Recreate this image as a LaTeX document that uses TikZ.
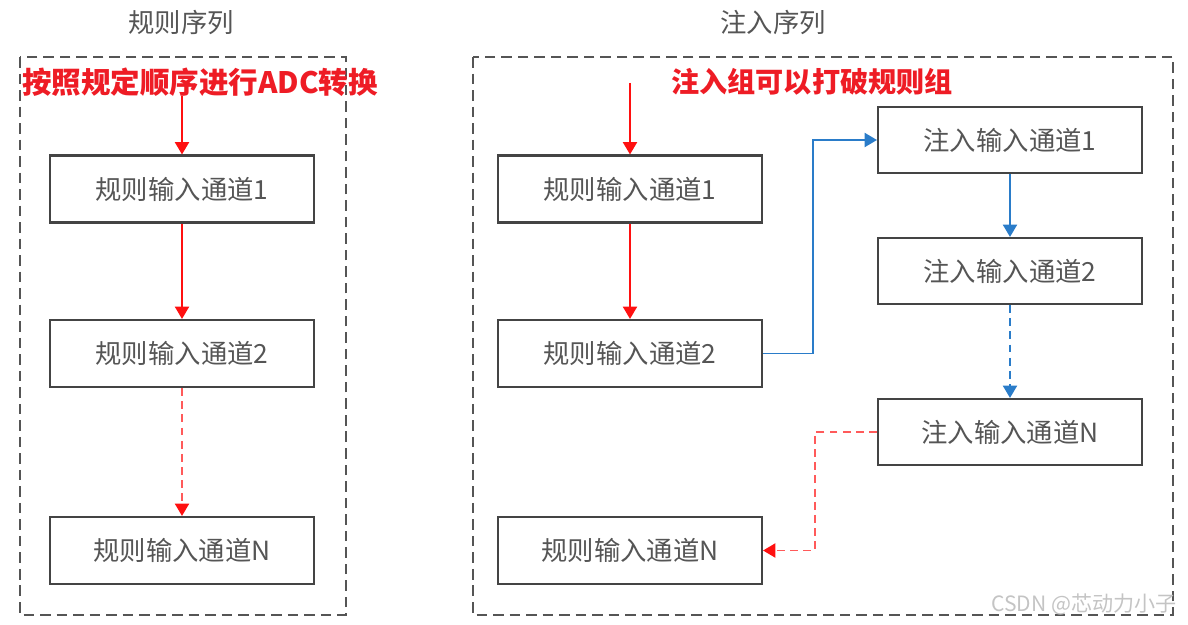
\documentclass[tikz,border=0pt]{standalone}
\usepackage{fontspec}
\newfontfamily\cjk{Noto Sans CJK SC}
\usetikzlibrary{arrows.meta}
\definecolor{boxgray}{HTML}{444444}
\definecolor{txtgray}{HTML}{555555}
\definecolor{outergray}{HTML}{555555}
\definecolor{hired}{HTML}{EE1C25}
\definecolor{arrred}{HTML}{FF1010}
\definecolor{dashred}{HTML}{FF5A5A}
\definecolor{arrblue}{HTML}{2A7CC9}
\definecolor{wmgray}{HTML}{C4C4C4}
\tikzset{
  chbox/.style={draw=boxgray, line width=1.2pt, minimum width=5.28cm, minimum height=1.34cm, inner sep=0pt,
    font=\cjk\fontsize{15}{18}\selectfont, text=txtgray},
  outer/.style={draw=outergray, line width=1.2pt, dash pattern=on 6pt off 3.4pt},
  title/.style={font=\cjk\fontsize{15}{18}\selectfont, text=txtgray},
  redlabel/.style={font=\cjk\bfseries\fontsize{16}{19}\selectfont, text=hired, inner sep=0pt},
  redarr/.style={-{Triangle[width=8pt,length=7pt,color=arrred]}, draw=arrred, line width=1pt},
  reddash/.style={-{Triangle[width=8pt,length=7pt,color=arrred]}, draw=dashred, line width=1pt, dash pattern=on 4.5pt off 3pt},
  bluearr/.style={-{Triangle[width=8pt,length=7pt,color=arrblue]}, draw=arrblue, line width=1pt},
  bluedash/.style={-{Triangle[width=8pt,length=7pt,color=arrblue]}, draw=arrblue, line width=1pt, dash pattern=on 4.5pt off 3pt},
}
\begin{document}
\begin{tikzpicture}[x=0.02cm, y=-0.02cm]
\useasboundingbox (0,0) rectangle (1188,625);
% outer dashed frames
\draw[outer] (20,57) rectangle (346,615);
\draw[outer] (473,57) rectangle (1173,615);
% titles
\node[title] (t1) at (181,22) {规则序列};
\node[title] (t2) at (773,22) {注入序列};
% left column
\node[chbox] (l1) at (182,189) {规则输入通道1};
\node[chbox] (l2) at (182,353.5) {规则输入通道2};
\node[chbox] (lN) at (182,550.5) {规则输入通道N};
% right regular column
\node[chbox] (r1) at (630,189) {规则输入通道1};
\node[chbox] (r2) at (630,353.5) {规则输入通道2};
\node[chbox] (rN) at (630,550.5) {规则输入通道N};
% injected column
\node[chbox, minimum height=1.32cm] (i1) at (1010,140) {注入输入通道1};
\node[chbox, minimum height=1.32cm] (i2) at (1010,271) {注入输入通道2};
\node[chbox, minimum height=1.32cm] (iN) at (1010,432) {注入输入通道N};
% red labels
\node[redlabel, font=\cjk\bfseries\fontsize{16.8}{19}\selectfont] (lab1) at (200,82) {按照规定顺序进行ADC转换};
\node[redlabel] (lab2) at (812,82) {注入组可以打破规则组};
% start coordinates
\coordinate (ls) at (182,96);
\coordinate (rs) at (630,83);
\coordinate (bj) at (813,0);
\coordinate (rj) at (815,0);
% left arrows
\draw[redarr] (ls) -- (l1.north);
\draw[redarr] (l1.south) -- (l2.north);
\draw[reddash] (l2.south) -- (lN.north);
% right arrows
\draw[redarr] (rs) -- (r1.north);
\draw[redarr] (r1.south) -- (r2.north);
\draw[bluearr] (r2.east) -- (r2.east -| bj) |- (i1.west);
\draw[bluearr] (i1.south) -- (i2.north);
\draw[bluedash] (i2.south) -- (iN.north);
\draw[reddash] (iN.west) -- (iN.west -| rj) |- (rN.east);
% watermark
\node[font=\cjk\fontsize{12}{14}\selectfont, text=wmgray, inner sep=0pt] (wm) at (1084,604) {CSDN @芯动力小子};
\end{tikzpicture}
\end{document}
